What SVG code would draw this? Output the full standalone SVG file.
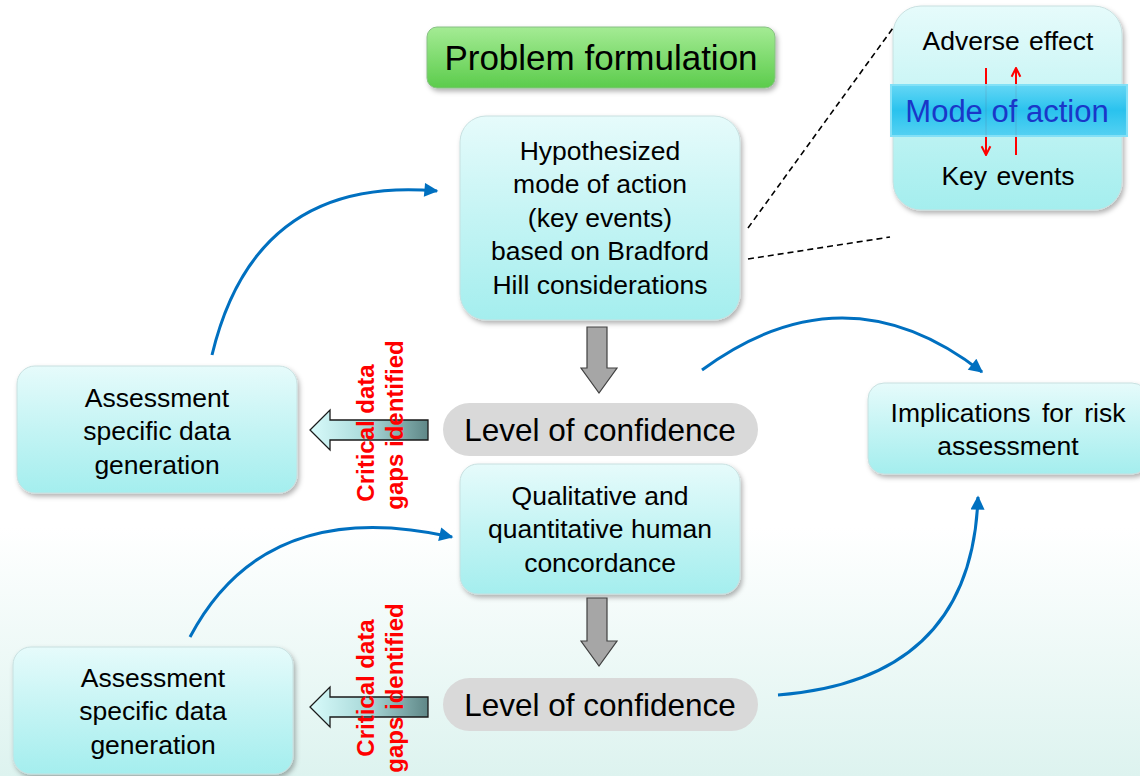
<svg xmlns="http://www.w3.org/2000/svg" width="1140" height="776" viewBox="0 0 1140 776">
<defs>
<linearGradient id="bg" x1="0" y1="0" x2="0" y2="1">
<stop offset="0" stop-color="#ffffff"/>
<stop offset="0.68" stop-color="#ffffff"/>
<stop offset="1" stop-color="#ddf3ef"/>
</linearGradient>
<linearGradient id="cyan" x1="0" y1="0" x2="0" y2="1">
<stop offset="0" stop-color="#e6fbfb"/>
<stop offset="0.5" stop-color="#c4f4f4"/>
<stop offset="1" stop-color="#a4eeee"/>
</linearGradient>
<linearGradient id="green" x1="0" y1="0" x2="0" y2="1">
<stop offset="0" stop-color="#a4eb94"/>
<stop offset="1" stop-color="#5ccc4c"/>
</linearGradient>
<linearGradient id="hollow" x1="0" y1="0" x2="1" y2="0">
<stop offset="0" stop-color="#d8fbfb"/>
<stop offset="0.5" stop-color="#a8d8d8"/>
<stop offset="1" stop-color="#5f8787"/>
</linearGradient>
<linearGradient id="bar" x1="0" y1="0" x2="0" y2="1">
<stop offset="0" stop-color="#5fd6f5"/>
<stop offset="0.5" stop-color="#22c0ee"/>
<stop offset="1" stop-color="#4fd0f2"/>
</linearGradient>
<filter id="sh" x="-10%" y="-10%" width="125%" height="130%">
<feDropShadow dx="2" dy="3" stdDeviation="2.5" flood-color="#000" flood-opacity="0.3"/>
</filter>
<marker id="ah" viewBox="0 0 10 10" refX="9" refY="5" markerWidth="16" markerHeight="14" orient="auto" markerUnits="userSpaceOnUse">
<path d="M0,0 L10,5 L0,10 Z" fill="#0070c0"/>
</marker>
<marker id="rh" viewBox="0 0 10 10" refX="9" refY="5" markerWidth="11" markerHeight="12" orient="auto" markerUnits="userSpaceOnUse">
<path d="M1,1 L9,5 L1,9" fill="none" stroke="#ff0000" stroke-width="1.8"/>
</marker>
<style>
.box{fill:url(#cyan);stroke:#c8e0e0;stroke-width:1;filter:url(#sh)}
.t{font-family:"Liberation Sans",Arial,sans-serif;font-size:26.5px;fill:#000;text-anchor:middle}
.pill{fill:#d9d9d9}
.big{font-family:"Liberation Sans",Arial,sans-serif;font-size:31.5px;fill:#000;text-anchor:middle}
.red{font-family:"Liberation Sans",Arial,sans-serif;font-size:24px;font-weight:bold;fill:#ff0000;text-anchor:middle}
.curve{fill:none;stroke:#0070c0;stroke-width:3;marker-end:url(#ah)}
.dash{fill:none;stroke:#000;stroke-width:1.6;stroke-dasharray:6,4}
.gray{fill:#a6a6a6;stroke:#404040;stroke-width:1.2}
.hollow{fill:url(#hollow);stroke:#1a1a1a;stroke-width:1.3}
</style>
</defs>
<rect x="0" y="0" width="1140" height="776" fill="url(#bg)"/>

<g id="problem">
<rect x="427" y="27" width="348" height="61" rx="10" fill="url(#green)" stroke="#88c084" filter="url(#sh)"/>
<text x="601" y="70" class="t" style="font-size:35px">Problem formulation</text>
</g>

<g id="hypothesized">
<rect class="box" x="460" y="116" width="280" height="204" rx="26"/>
<text class="t" x="600" y="160">Hypothesized</text>
<text class="t" x="600" y="193">mode of action</text>
<text class="t" x="600" y="227">(key events)</text>
<text class="t" x="600" y="260">based on Bradford</text>
<text class="t" x="600" y="294">Hill considerations</text>
</g>

<g id="moa">
<rect class="box" x="893" y="6" width="229" height="204" rx="28"/>
<text class="t" x="1008" y="50" style="word-spacing:2px">Adverse effect</text>
<line x1="986" y1="68" x2="986" y2="155" stroke="#ff0000" stroke-width="2" marker-end="url(#rh)"/>
<line x1="1016" y1="155" x2="1016" y2="68" stroke="#ff0000" stroke-width="2" marker-end="url(#rh)"/>
<rect x="891" y="85" width="236" height="51" fill="url(#bar)" opacity="0.95" stroke="#7fe0f8" stroke-width="2"/>
<text class="t" x="1007" y="122" style="font-size:31px;fill:#1a37c8">Mode of action</text>
<text class="t" x="1008" y="185" style="word-spacing:2px">Key events</text>
</g>

<g id="assess1">
<rect class="box" x="17" y="366" width="280" height="127" rx="18"/>
<text class="t" x="157" y="407">Assessment</text>
<text class="t" x="157" y="440">specific data</text>
<text class="t" x="157" y="474">generation</text>
</g>

<g id="loc1">
<rect class="pill" x="443" y="403" width="315" height="53" rx="26.5"/>
<text class="big" x="600" y="441">Level of confidence</text>
</g>

<g id="qual">
<rect class="box" x="460" y="464" width="280" height="130" rx="18"/>
<text class="t" x="600" y="505">Qualitative and</text>
<text class="t" x="600" y="538">quantitative human</text>
<text class="t" x="600" y="572">concordance</text>
</g>

<g id="implications">
<rect class="box" x="868" y="383" width="280" height="91" rx="16"/>
<text class="t" x="1008" y="422" style="word-spacing:4px">Implications for risk</text>
<text class="t" x="1008" y="455">assessment</text>
</g>

<g id="assess2">
<rect class="box" x="13" y="647" width="280" height="127" rx="18"/>
<text class="t" x="153" y="687">Assessment</text>
<text class="t" x="153" y="720">specific data</text>
<text class="t" x="153" y="754">generation</text>
</g>

<g id="loc2">
<rect class="pill" x="443" y="678" width="315" height="53" rx="26.5"/>
<text class="big" x="600" y="716">Level of confidence</text>
</g>

<g id="connectors">
<path class="dash" d="M748,228 L893,28"/>
<path class="dash" d="M748,259 L890,237"/>
<path class="gray" d="M587,327 L607,327 L607,368 L617,368 L599,393 L581,368 L587,368 Z"/>
<path class="gray" d="M587,598 L607,598 L607,641 L617,641 L599,666 L581,641 L587,641 Z"/>
<path class="hollow" d="M428,420 L330,420 L330,410 L310,430 L330,450 L330,440 L428,440 Z"/>
<path class="hollow" d="M428,697 L330,697 L330,687 L310,707 L330,727 L330,717 L428,717 Z"/>
<text class="red" transform="translate(374,433) rotate(-90)">Critical data</text>
<text class="red" transform="translate(403,425) rotate(-90)">gaps identified</text>
<text class="red" transform="translate(374,688) rotate(-90)">Critical data</text>
<text class="red" transform="translate(403,688) rotate(-90)">gaps identified</text>
<path class="curve" d="M212,355 Q255,175 437,191"/>
<path class="curve" d="M702,370 Q845,265 982,372"/>
<path class="curve" d="M190,637 Q265,495 452,537"/>
<path class="curve" d="M778,695 Q972,680 978,497"/>
</g>
</svg>
